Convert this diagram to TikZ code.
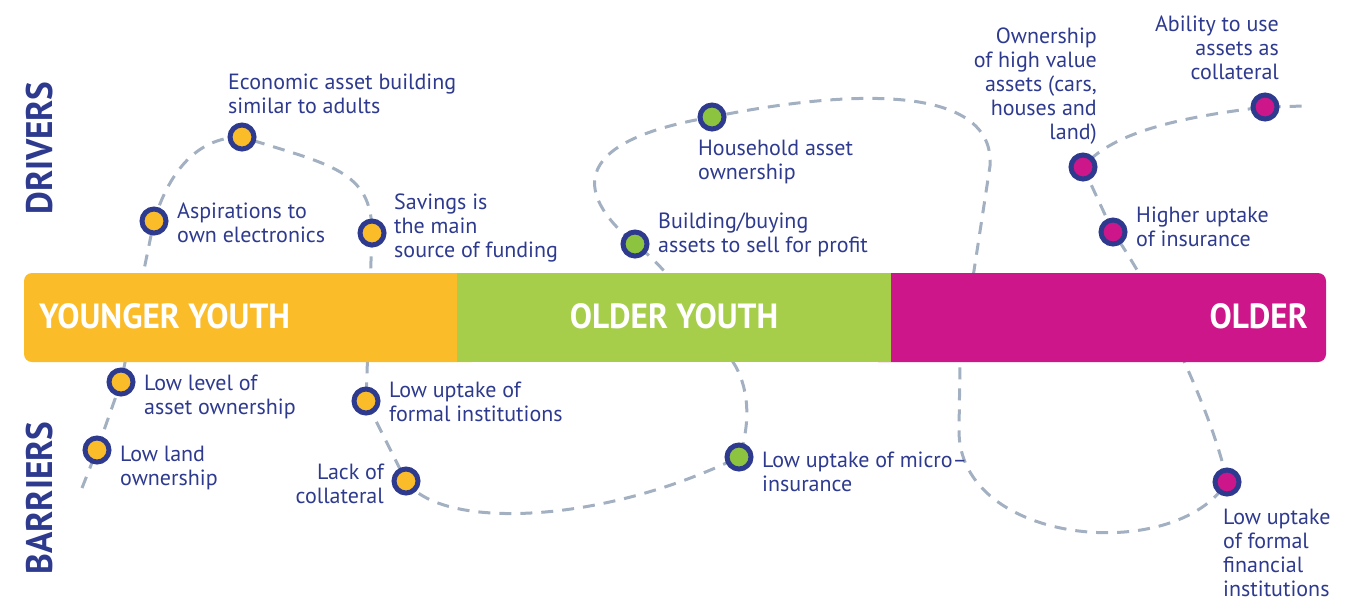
\documentclass[tikz,border=0pt]{standalone}
\usepackage{fontspec}
\setmainfont{PT Sans}
\newfontfamily\barfont[FakeStretch=0.95]{PT Sans}
\definecolor{navy}{RGB}{46,58,142}
\definecolor{byel}{RGB}{251,188,42}
\definecolor{bgrn}{RGB}{166,206,74}
\definecolor{bmag}{RGB}{204,22,137}
\definecolor{dgry}{RGB}{162,176,193}
\definecolor{dgrn}{RGB}{141,196,63}
\pgfdeclarelayer{trl}
\pgfdeclarelayer{barl}
\pgfsetlayers{trl,barl,main}
\tikzset{
  dot/.style={circle, draw=navy, line width=5pt, minimum size=24pt, inner sep=0pt, fill=#1},
  lbl/.style={text=navy, inner sep=0pt, font=\fontsize{22}{24}\selectfont},
  lbll/.style={lbl, anchor=base west, align=left},
  lblr/.style={lbl, anchor=base east, align=right},
  barlbl/.style={text=white, inner sep=0pt, font=\barfont\fontsize{35}{35}\bfseries\selectfont},
  side/.style={text=navy, inner sep=0pt, rotate=90, font=\barfont\fontsize{37}{37}\bfseries\selectfont},
  trail/.style={draw=dgry, line width=3pt, dash pattern=on 12pt off 9pt}
}
\begin{document}
\begin{tikzpicture}[x=1pt,y=-1pt]
\useasboundingbox (0,0) rectangle (1364,600);
% dots
\node[dot=byel] (asp) at (154,221) {};
\node[dot=byel] (eco) at (242,137) {};
\node[dot=byel] (sav) at (372,233) {};
\node[dot=dgrn] (hou) at (712,117) {};
\node[dot=dgrn] (bui) at (635,244) {};
\node[dot=bmag] (own) at (1083,167) {};
\node[dot=bmag] (abi) at (1265,107) {};
\node[dot=bmag] (hig) at (1113,232) {};
\node[dot=byel] (lev) at (121,382) {};
\node[dot=byel] (lan) at (97,450) {};
\node[dot=byel] (frm) at (366,401) {};
\node[dot=byel] (lac) at (406,481) {};
\node[dot=dgrn] (mic) at (739,457) {};
\node[dot=bmag] (fin) at (1227,482) {};
\coordinate (s0) at (82,488);
\coordinate (b1) at (733,362);
\coordinate (k1) at (990,166);
\coordinate (k2) at (959,430);
\coordinate (e0) at (1306,106);
% trail
\begin{pgfonlayer}{trl}
\draw[trail] (s0) -- (lan.center) -- (lev.center) -- (asp.center)
  .. controls (168,175) and (195,137) .. (eco.center)
  .. controls (330,165) and (372,170) .. (sav.center)
  -- (frm.center) -- (lac.center)
  .. controls (440,530) and (600,525) .. (mic.center)
  .. controls (752,420) and (748,385) .. (b1)
  .. controls (700,310) and (660,262) .. (bui.center)
  .. controls (570,190) and (575,140) .. (hou.center)
  .. controls (870,85) and (995,90) .. (k1)
  -- (960,362) -- (k2)
  .. controls (958,545) and (1175,565) .. (fin.center)
  .. controls (1215,420) and (1160,300) .. (hig.center)
  -- (own.center)
  .. controls (1110,135) and (1170,118) .. (abi.center) -- (e0);
\end{pgfonlayer}
% bar
\begin{pgfonlayer}{barl}
\fill[byel, rounded corners=8pt] (24,273) rectangle (480,362);
\fill[bmag, rounded corners=8pt] (870,273) rectangle (1326,362);
\fill[bgrn] (457,273) rectangle (891,362);
\end{pgfonlayer}
\node[barlbl, anchor=base west] (yy) at (39,328) {YOUNGER YOUTH};
\node[barlbl, anchor=base] (oy) at (674,328) {OLDER YOUTH};
\node[barlbl, anchor=base east] (ol) at (1308,328) {OLDER};
% side labels
\node[side, anchor=base] (drv) at (52,148) {DRIVERS};
\node[side, anchor=base] (bar) at (52,498) {BARRIERS};
% labels (base = last line)
\node[lbll] (teco) at (228,113) {Economic asset building\\similar to adults};
\node[lbll] (tasp) at (177,242) {Aspirations to\\own electronics};
\node[lbll] (tsav) at (394,257) {Savings is\\the main\\source of funding};
\node[lbll] (thou) at (698,179) {Household asset\\ownership};
\node[lbll] (tbui) at (658,252) {Building/buying\\assets to sell for profit};
\node[lblr] (town) at (1097,139) {Ownership\\of high value\\assets (cars,\\houses and\\land)};
\node[lblr] (tabi) at (1279,79) {Ability to use\\assets as\\collateral};
\node[lbll] (thig) at (1136,246) {Higher uptake\\of insurance};
\node[lbll] (tlev) at (144,414) {Low level of\\asset ownership};
\node[lbll] (tlan) at (120,485) {Low land\\ownership};
\node[lbll] (tfrm) at (389,421) {Low uptake of\\formal institutions};
\node[lblr] (tlac) at (384,503) {Lack of\\collateral};
\node[lbll] (tmic) at (762,491) {Low uptake of micro–\\insurance};
\node[lbll] (tfin) at (1223,596) {Low uptake\\of formal\\financial\\institutions};
\end{tikzpicture}
\end{document}
